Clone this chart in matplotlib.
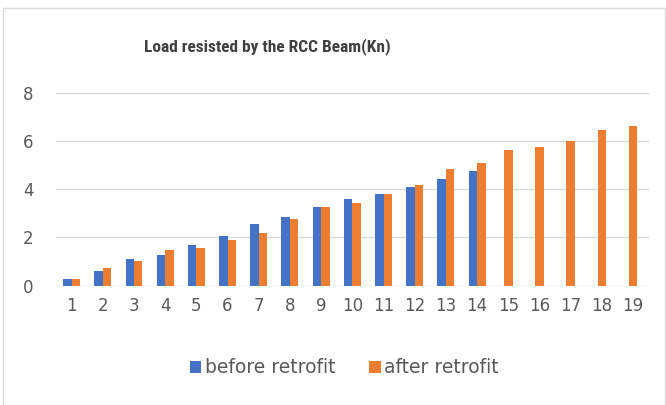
import numpy as np
import matplotlib.pyplot as plt
from matplotlib.patches import Rectangle

# 数据
categories = [str(i) for i in range(1, 20)]
before = [0.28, 0.62, 1.1, 1.28, 1.69, 2.07, 2.55, 2.86, 3.28, 3.58,
          3.79, 4.09, 4.41, 4.75]
after = [0.28, 0.72, 1.03, 1.47, 1.56, 1.89, 2.2, 2.78, 3.28, 3.44,
         3.79, 4.2, 4.85, 5.1, 5.62, 5.74, 6.0, 6.47, 6.64]

blue = '#4472C4'
orange = '#ED7D31'
grey = '#595959'

fig = plt.figure(figsize=(6.66, 4.05), dpi=100)
ax = fig.add_axes([0.084, 0.295, 0.89, 0.475])

x = np.arange(len(categories))
nb = len(before)
w = 0.27
# 有两组的位置向右偏移，只有一组的居中
x_after = np.where(x < nb, x + w / 2, x)
ax.bar(x[:nb] - w / 2, before, w, color=blue, label='before retrofit')
ax.bar(x_after, after, w, color=orange, label='after retrofit')

ax.set_xlim(-0.5, len(categories) - 0.5)
ax.set_ylim(0, 8)
ax.set_yticks([0, 2, 4, 6, 8])
ax.set_xticks(x)
ax.set_xticklabels(categories)
ax.grid(axis='y', color='#d9d9d9', linewidth=1)
ax.set_axisbelow(True)
for s in ax.spines.values():
    s.set_visible(False)
ax.tick_params(length=0, labelsize=12, labelcolor=grey, pad=8)
ax.tick_params(axis='y', pad=16)

fig.text(0.402, 0.885, 'Load resisted by the RCC Beam(Kn)', ha='center', va='center',
         fontsize=12.5, fontweight='bold', color='#404040',
         family=['Roboto Condensed', 'Roboto', 'DejaVu Sans'])

ax.legend(loc='upper center', bbox_to_anchor=(0.487, -0.29), ncol=2, frameon=False,
          fontsize=13.5, labelcolor=grey, handlelength=0.6, handleheight=0.6,
          handletextpad=0.2, columnspacing=1.8)

fig.patches.append(Rectangle((0.004, 0.0), 0.994, 0.98, transform=fig.transFigure,
                             fill=False, edgecolor='#d9d9d9', linewidth=1))

fig.savefig('out.png', dpi=100)
